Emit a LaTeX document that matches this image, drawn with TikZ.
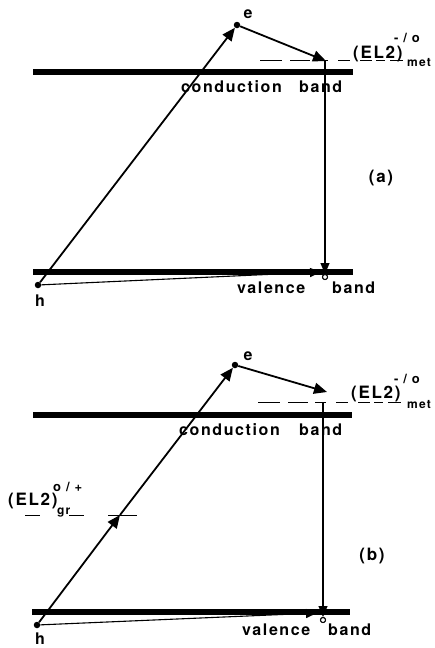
\documentclass[tikz,border=0pt]{standalone}
\usepackage{fontspec}
\setmainfont[LetterSpace=10]{TeX Gyre Heros}
\usetikzlibrary{arrows.meta}
\begin{document}
\begin{tikzpicture}[x=1pt,y=-1pt,
  band/.style={line width=5.5pt},
  level/.style={line width=1pt,dash pattern=on 22pt off 8pt on 20pt off 7pt on 11pt off 10pt on 12pt off 10pt on 12pt off 4pt on 9pt off 5pt on 13pt},
  thick arrow/.style={line width=1.8pt,-{Triangle[length=13pt,width=11pt]}},
  thin arrow/.style={line width=1.1pt,-{Triangle[length=11pt,width=9pt]}},
  dot/.style={circle,fill=black,inner sep=0pt,minimum size=6.5pt},
  hole/.style={circle,draw=black,fill=white,line width=1pt,inner sep=0pt,minimum size=5pt},
  lbl/.style={inner sep=0pt,font=\bfseries\fontsize{16}{18}\selectfont},
  big/.style={inner sep=0pt,font=\bfseries\fontsize{17}{19}\selectfont},
  sup/.style={inner sep=0pt,font=\bfseries\fontsize{13}{15}\selectfont},
  sub/.style={inner sep=0pt,font=\bfseries\fontsize{12}{14}\selectfont},
  word/.style={lbl,anchor=base west}]
\useasboundingbox (0,0) rectangle (435,648);
% ---------------- panel (a) ----------------
\coordinate (cba1) at (33,72);  \coordinate (cba2) at (353,72);
\coordinate (vba1) at (33,272); \coordinate (vba2) at (353,272);
\coordinate (lva1) at (260,60.5); \coordinate (lva2) at (403,60.5);
\draw[band] (cba1) -- (cba2);
\draw[band] (vba1) -- (vba2);
\draw[level] (lva1) -- (lva2);
\node[dot] (ha) at (38,285) {};
\node[dot] (ea) at (237,25) {};
\coordinate (la) at (326,61);
\coordinate (lta) at (325,61);
\node[hole] (vca) at (325,277) {};
\coordinate (hta) at (321,272);
\draw[thick arrow] (ha) -- (ea);
\draw[thick arrow] (ea) -- (la);
\draw[thin arrow] (lta) -- (vca);
\draw[thin arrow] (ha) -- (hta);
\node[hole] at (vca) {};
\node[lbl] (ela) at (248,14) {e};
\node[lbl] (hla) at (40,301) {h};
\node[word] (cwa) at (181,92) {conduction};
\node[word] (bwa) at (299,92) {band};
\node[word] (vwa) at (237,293) {valence};
\node[word] (bva) at (332,293) {band};
\node[big,anchor=base west] (mla) at (353,58.5) {(EL2)};
\node[sup,anchor=base west] (msa) at (394,42) {- / o};
\node[sub,anchor=base west] (mba) at (407,66) {met};
\node[big] (pa) at (381,178) {(a)};
% ---------------- panel (b) ----------------
\coordinate (cbb1) at (33,415);  \coordinate (cbb2) at (352,415);
\coordinate (vbb1) at (32,612); \coordinate (vbb2) at (350,612);
\coordinate (lvb1) at (258,402); \coordinate (lvb2) at (401,402);
\draw[band] (cbb1) -- (cbb2);
\draw[band] (vbb1) -- (vbb2);
\draw[level] (lvb1) -- (lvb2);
\node[dot] (hb) at (37,625) {};
\node[dot] (eb) at (235,365) {};
\coordinate (gb) at (120,515);
\coordinate (lb) at (327,392);
\coordinate (ltb) at (323,402);
\node[hole] (vcb) at (323,620) {};
\coordinate (htb) at (317,613);
\coordinate (g1) at (25,515); \coordinate (g2) at (40,515);
\coordinate (g3) at (69,515); \coordinate (g4) at (84,515);
\coordinate (g5) at (108,515); \coordinate (g6) at (137,515);
\draw[line width=1pt] (g1) -- (g2) (g3) -- (g4) (g5) -- (g6);
\draw[thick arrow] (hb) -- (gb);
\draw[thick arrow] (gb) -- (eb);
\draw[thick arrow] (eb) -- (lb);
\draw[thin arrow] (ltb) -- (vcb);
\draw[thin arrow] (hb) -- (htb);
\node[hole] at (vcb) {};
\node[lbl] (elb) at (248,356) {e};
\node[lbl] (hlb) at (40,639) {h};
\node[word] (cwb) at (179,435) {conduction};
\node[word] (bwb) at (299,435) {band};
\node[word] (vwb) at (242,635) {valence};
\node[word] (bvb) at (328,635) {band};
\node[big,anchor=base west] (mlb) at (351,398) {(EL2)};
\node[sup,anchor=base west] (msb) at (394,383) {- / o};
\node[sub,anchor=base west] (mbb) at (407,408) {met};
\node[big,anchor=base west] (glb) at (8,505) {(EL2)};
\node[sup,anchor=base west] (gsb) at (53,491) {o / +};
\node[sub,anchor=base west] (gbb) at (57,514) {gr};
\node[big] (pb) at (372,556) {(b)};
\end{tikzpicture}
\end{document}
